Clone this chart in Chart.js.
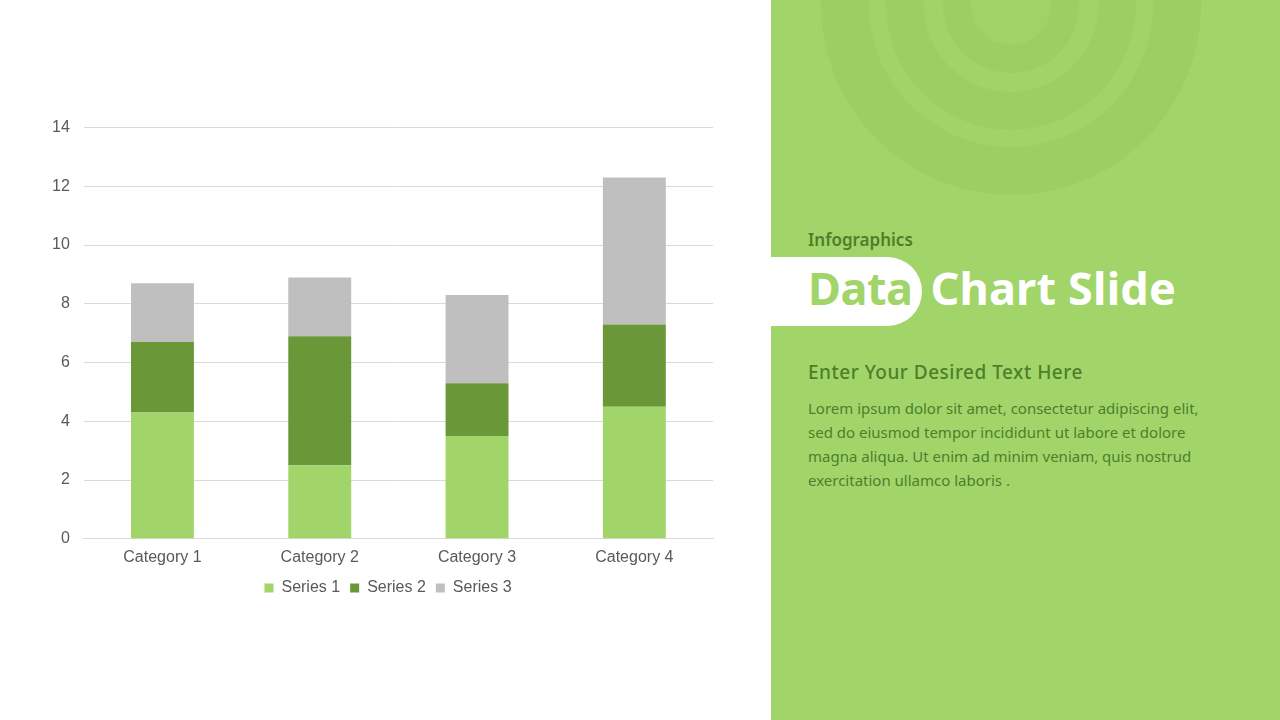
<!DOCTYPE html>
<html>
<head>
<meta charset="utf-8">
<script src="https://cdn.jsdelivr.net/npm/chart.js@4.4.1/dist/chart.umd.min.js"></script>
<style>
  html, body { margin: 0; padding: 0; }
  body { width: 1280px; height: 720px; position: relative; overflow: hidden; background: #ffffff; font-family: 'Noto Sans', sans-serif; }
  #chartBox { position: absolute; left: -25px; top: 104px; width: 765px; height: 502px; }
  #panel { position: absolute; left: 771px; top: 0; width: 509px; height: 720px; background: #a1d56a; overflow: hidden; }
  .ring { position: absolute; border-radius: 50%; }
  .pill { position: absolute; left: 0; top: 257px; width: 151px; height: 69px; background: #ffffff; border-radius: 0 35px 35px 0; }
  .kicker { position: absolute; left: 37px; top: 228px; font-size: 17px; font-weight: 600; color: #4e7e2a; }
  .title { position: absolute; left: 37px; top: 257px; font-size: 45px; font-weight: 700; color: #ffffff; white-space: nowrap; letter-spacing: 0.2px; }
  .title .g { color: #a1d56a; margin-right: 18px; letter-spacing: -0.5px; }
  .sub { position: absolute; left: 37px; top: 359px; font-size: 19px; font-weight: 500; color: #4e7e2a; letter-spacing: 0.5px; }
  .body { position: absolute; left: 37px; top: 396px; width: 460px; font-size: 15px; line-height: 24px; color: #4e7e2a; white-space: nowrap; }
</style>
</head>
<body>
<div id="chartBox"><canvas id="chart"></canvas></div>
<div id="panel">
  <div class="ring" style="left:50px;top:-185px;width:380px;height:380px;background:#9bcf63;"></div>
  <div class="ring" style="left:98px;top:-137px;width:284px;height:284px;background:#a0d469;"></div>
  <div class="ring" style="left:115px;top:-120px;width:250px;height:250px;background:#9bcf63;"></div>
  <div class="ring" style="left:153px;top:-82px;width:174px;height:174px;background:#a0d469;"></div>
  <div class="ring" style="left:172px;top:-63px;width:136px;height:136px;background:#9bcf63;"></div>
  <div class="ring" style="left:200px;top:-35px;width:80px;height:80px;background:#9fd368;"></div>
  <div class="kicker">Infographics</div>
  <div class="pill"></div>
  <div class="title"><span class="g">Data</span>Chart Slide</div>
  <div class="sub">Enter Your Desired Text Here</div>
  <div class="body">Lorem ipsum dolor sit amet, consectetur adipiscing elit,<br>sed do eiusmod tempor incididunt ut labore et dolore<br>magna aliqua. Ut enim ad minim veniam, quis nostrud<br>exercitation ullamco laboris .</div>
</div>
<script>
const categories = ['Category 1', 'Category 2', 'Category 3', 'Category 4'];
const series1 = [4.3, 2.5, 3.5, 4.5];
const series2 = [2.4, 4.4, 1.8, 2.8];
const series3 = [2.0, 2.0, 3.0, 5.0];
const seriesNames = ['Series 1', 'Series 2', 'Series 3'];
const seriesColors = ['#a1d56a', '#6a9738', '#bfbfbf'];

const textColor = '#595959';
const font = { family: "'Liberation Sans', Arial, sans-serif", size: 16 };

new Chart(document.getElementById('chart'), {
  type: 'bar',
  data: {
    labels: categories,
    datasets: [series1, series2, series3].map((vals, i) => ({
      label: seriesNames[i],
      data: vals,
      backgroundColor: seriesColors[i],
      borderWidth: 0,
      barPercentage: 0.4,
      categoryPercentage: 1.0
    }))
  },
  options: {
    responsive: true,
    maintainAspectRatio: false,
    animation: false,
    layout: { padding: { left: 63, right: 2, top: 23, bottom: 0 } },
    plugins: {
      tooltip: { enabled: false },
      legend: {
        position: 'bottom',
        labels: {
          color: textColor,
          font: font,
          boxWidth: 9,
          boxHeight: 9,
          padding: 10
        }
      }
    },
    scales: {
      x: {
        stacked: true,
        grid: { display: false, drawTicks: false },
        border: { color: '#d9d9d9', width: 1 },
        ticks: { color: textColor, font: font, padding: 9 },
        // tighten the gap between category labels and the legend
        afterFit: (scale) => { scale.height -= 6; }
      },
      y: {
        stacked: true,
        min: 0,
        max: 14,
        grid: { color: '#d9d9d9', drawTicks: false },
        border: { display: false },
        ticks: { stepSize: 2, color: textColor, font: font, padding: 14 }
      },
      // empty right-hand spacer so the legend centres like the original
      yRight: {
        position: 'right',
        grid: { display: false, drawTicks: false },
        border: { display: false },
        ticks: { display: false },
        afterFit: (scale) => { scale.width = 25; }
      }
    }
  }
});
</script>
</body>
</html>
